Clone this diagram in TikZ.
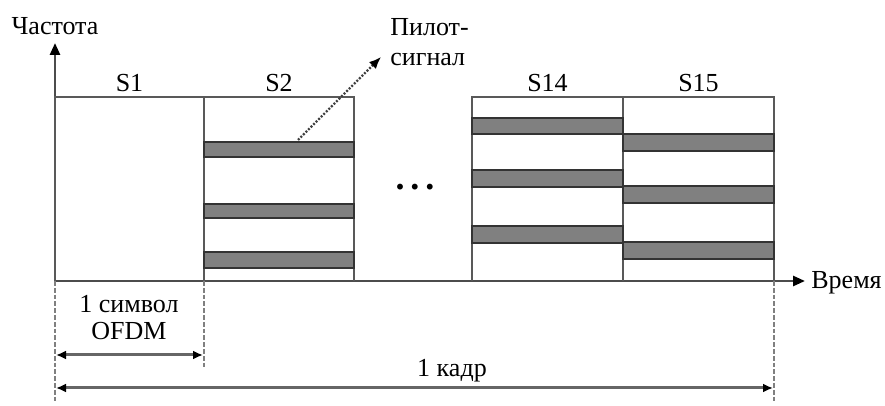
\documentclass[tikz,border=0pt]{standalone}
\usepackage{fontspec}
\setmainfont{Liberation Serif}
\usetikzlibrary{arrows.meta, positioning}

\begin{document}
\begin{tikzpicture}[
    x=0.5pt, y=-0.5pt,
    lbl/.style={font=\fontsize{13}{15}\selectfont, inner sep=0pt},
    axis/.style={draw=black!70, line width=1.3pt, -{Triangle[length=6pt, width=5pt, black]}},
    slotbox/.style={draw=black!65, line width=1.3pt},
    pilot/.style={draw=black!80, fill=black!50, line width=0.9pt},
    guide/.style={draw=black!50, line width=1.3pt, dash pattern=on 2.4pt off 1pt},
    span/.style={draw=black!60, line width=1.5pt, {Latex[length=5pt, width=4.5pt, black]}-{Latex[length=5pt, width=4.5pt, black]}},
    pointer/.style={draw=black!75, line width=1.2pt, dash pattern=on 1pt off 0.8pt, -{Latex[length=6pt, width=5pt, black]}}
]

\useasboundingbox (0,0) rectangle (885,406);

% Axes
\coordinate (o) at (55,281);
\coordinate (ftop) at (55,43);
\coordinate (tend) at (805,281);
\draw[axis] (o) -- (ftop);
\draw[axis] (o) -- (tend);
\node[lbl, anchor=base] (freq) at (55,35) {Частота};
\node[lbl, anchor=base west] (time) at (811,289) {Время};

% Slots
\foreach \xa/\xb/\name in {55/204/S1, 204/354/S2, 472/623/S14, 623/774/S15} {
  \draw[slotbox] (\xa,281) -- (\xa,97) -- (\xb,97) -- (\xb,281);
  \node[lbl, anchor=base] (\name) at ({(\xa+\xb)/2},92) {\name};
}

% Pilot bars
\foreach \ya/\yb in {142/157, 204/218, 252/268}
  \draw[pilot] (204,\ya) rectangle (354,\yb);
\foreach \ya/\yb in {118/134, 170/187, 226/243}
  \draw[pilot] (472,\ya) rectangle (623,\yb);
\foreach \ya/\yb in {134/151, 186/203, 242/259}
  \draw[pilot] (623,\ya) rectangle (774,\yb);

\node[lbl, font=\fontsize{18}{18}\selectfont\bfseries] (dots) at (415,187) {.\hspace{3pt}.\hspace{3pt}.};

% Pilot label
\coordinate (pbar) at (298,140);
\coordinate (ptip) at (381,57);
\node[lbl, anchor=north west, align=left] (pilotlbl) at (390,18) {Пилот-\\сигнал};
\draw[pointer] (pbar) -- (ptip);

% Guides
\coordinate (g1) at (55,403);
\coordinate (g2) at (204,368);
\coordinate (g3) at (774,403);
\draw[guide] (o) -- (g1);
\draw[guide] (204,281) -- (g2);
\draw[guide] (774,281) -- (g3);

% Durations
\coordinate (sa) at (56,355);
\coordinate (sb) at (203,355);
\coordinate (fa) at (56,388);
\coordinate (fb) at (773,388);
\draw[span] (sa) -- (sb);
\draw[span] (fa) -- (fb);
\node[lbl, anchor=north, align=center, font=\fontsize{13}{13.5}\selectfont] (sym) at (129,295) {1 символ\\OFDM};
\node[lbl, anchor=base] (frame) at (452,377) {1 кадр};

\end{tikzpicture}
\end{document}
